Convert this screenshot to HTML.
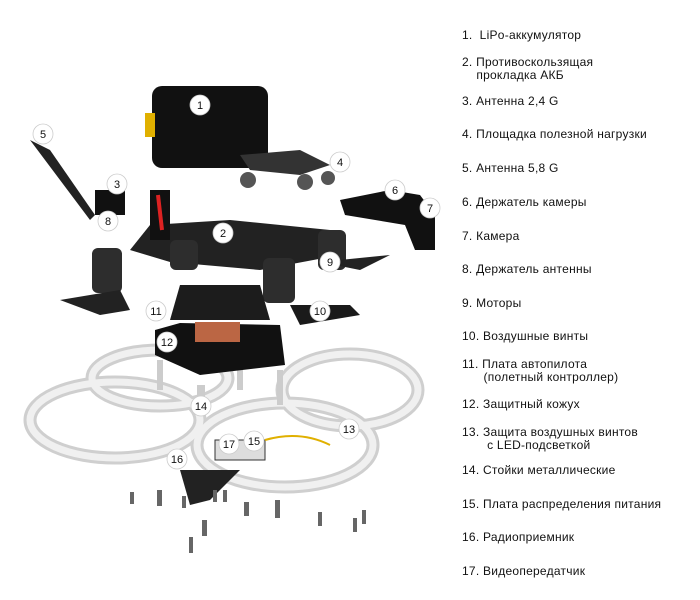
<!DOCTYPE html>
<html><head><meta charset="utf-8"><style>
body{margin:0;background:#fff;width:700px;height:600px;overflow:hidden;position:relative;font-family:"Liberation Sans",sans-serif}
.t{position:absolute;left:462px;font-size:12px;letter-spacing:0.25px;color:#111;line-height:13px;white-space:nowrap}
</style></head><body>
<svg width="700" height="600" style="position:absolute;left:0;top:0">
<g fill="none" stroke="#cfcfcf" stroke-width="13">
<ellipse cx="160" cy="378" rx="68" ry="28"/>
<ellipse cx="350" cy="390" rx="68" ry="36"/>
<ellipse cx="115" cy="420" rx="85" ry="38"/>
<ellipse cx="285" cy="445" rx="88" ry="42"/>
</g>
<g fill="none" stroke="#f0f0f0" stroke-width="7">
<ellipse cx="160" cy="378" rx="68" ry="28"/>
<ellipse cx="350" cy="390" rx="68" ry="36"/>
<ellipse cx="115" cy="420" rx="85" ry="38"/>
<ellipse cx="285" cy="445" rx="88" ry="42"/>
</g>
<g fill="#ccc"><rect x="157" y="360" width="6" height="30"/><rect x="237" y="360" width="6" height="30"/><rect x="277" y="370" width="6" height="35"/><rect x="197" y="385" width="8" height="30"/></g>
<path d="M180 470 L240 470 L210 500 L190 505 Z" fill="#222"/>
<rect x="152" y="86" width="116" height="82" rx="10" fill="#111"/>
<rect x="145" y="113" width="10" height="24" fill="#e0b000"/>
<path d="M240 155 L300 150 L330 165 L300 175 L250 170 Z" fill="#333"/>
<circle cx="248" cy="180" r="8" fill="#555"/><circle cx="305" cy="182" r="8" fill="#555"/><circle cx="328" cy="178" r="7" fill="#555"/>
<path d="M340 200 L390 190 L420 195 L435 215 L435 250 L415 250 L405 225 L345 215 Z" fill="#111"/>
<path d="M150 225 L230 220 L330 230 L340 255 L260 270 L170 262 L130 250 Z" fill="#222"/>
<path d="M30 140 L50 150 L95 215 L90 220 L45 160 Z" fill="#222"/>
<rect x="150" y="190" width="20" height="50" fill="#111"/><path d="M158 195 L162 230" stroke="#d22" stroke-width="4"/>
<rect x="95" y="190" width="30" height="25" fill="#111"/>
<g fill="#2d2d2d">
<rect x="92" y="248" width="30" height="45" rx="6"/><rect x="263" y="258" width="32" height="45" rx="6"/>
<rect x="318" y="230" width="28" height="40" rx="6"/><rect x="170" y="240" width="28" height="30" rx="6"/>
</g>
<path d="M60 300 L120 290 L130 310 L100 315 Z" fill="#222"/>
<path d="M290 305 L350 305 L360 315 L300 325 Z" fill="#1a1a1a"/>
<path d="M320 262 L390 255 L360 270 Z" fill="#222"/>
<path d="M180 285 L260 285 L270 320 L170 320 Z" fill="#1c1c1c"/>
<path d="M155 330 L180 323 L280 325 L285 365 L200 375 L155 355 Z" fill="#111"/>
<rect x="195" y="322" width="45" height="20" fill="#b64"/>
<rect x="215" y="440" width="50" height="20" fill="#ddd" stroke="#333"/>
<path d="M265 440 Q300 430 330 445" stroke="#e0b000" stroke-width="2" fill="none"/>
<g fill="#666">
<rect x="130" y="492" width="4" height="12"/><rect x="157" y="490" width="5" height="16"/><rect x="182" y="496" width="4" height="12"/><rect x="213" y="490" width="4" height="12"/><rect x="223" y="490" width="4" height="12"/><rect x="244" y="502" width="5" height="14"/><rect x="275" y="500" width="5" height="18"/><rect x="318" y="512" width="4" height="14"/><rect x="353" y="518" width="4" height="14"/><rect x="362" y="510" width="4" height="14"/><rect x="202" y="520" width="5" height="16"/><rect x="189" y="537" width="4" height="16"/>
</g>
<g font-family="Liberation Sans" font-size="11" text-anchor="middle">
<g fill="#fff" stroke="#ccc" stroke-width="0.8">
<circle cx="200" cy="105" r="10"/><circle cx="223" cy="233" r="10"/><circle cx="117" cy="184" r="10"/><circle cx="340" cy="162" r="10"/><circle cx="43" cy="134" r="10"/><circle cx="395" cy="190" r="10"/><circle cx="430" cy="208" r="10"/><circle cx="108" cy="221" r="10"/><circle cx="330" cy="262" r="10"/><circle cx="320" cy="311" r="10"/><circle cx="156" cy="311" r="10"/><circle cx="167" cy="342" r="10"/><circle cx="349" cy="429" r="10"/><circle cx="201" cy="406" r="10"/><circle cx="254" cy="441" r="10"/><circle cx="177" cy="459" r="10"/><circle cx="229" cy="444" r="10"/>
</g>
<g fill="#111">
<text x="200" y="109">1</text><text x="223" y="237">2</text><text x="117" y="188">3</text><text x="340" y="166">4</text><text x="43" y="138">5</text><text x="395" y="194">6</text><text x="430" y="212">7</text><text x="108" y="225">8</text><text x="330" y="266">9</text><text x="320" y="315">10</text><text x="156" y="315">11</text><text x="167" y="346">12</text><text x="349" y="433">13</text><text x="201" y="410">14</text><text x="254" y="445">15</text><text x="177" y="463">16</text><text x="229" y="448">17</text>
</g></g>
</svg>
<div class="t" style="top:29px">1.&nbsp; LiPo-аккумулятор</div>
<div class="t" style="top:56px">2. Противоскользящая<br>&nbsp;&nbsp;&nbsp; прокладка АКБ</div>
<div class="t" style="top:95px">3. Антенна 2,4 G</div>
<div class="t" style="top:128px">4. Площадка полезной нагрузки</div>
<div class="t" style="top:162px">5. Антенна 5,8 G</div>
<div class="t" style="top:196px">6. Держатель камеры</div>
<div class="t" style="top:230px">7. Камера</div>
<div class="t" style="top:263px">8. Держатель антенны</div>
<div class="t" style="top:297px">9. Моторы</div>
<div class="t" style="top:330px">10. Воздушные винты</div>
<div class="t" style="top:358px">11. Плата автопилота<br>&nbsp;&nbsp;&nbsp;&nbsp;&nbsp; (полетный контроллер)</div>
<div class="t" style="top:398px">12. Защитный кожух</div>
<div class="t" style="top:426px">13. Защита воздушных винтов<br>&nbsp;&nbsp;&nbsp;&nbsp;&nbsp;&nbsp; с LED-подсветкой</div>
<div class="t" style="top:464px">14. Стойки металлические</div>
<div class="t" style="top:498px">15. Плата распределения питания</div>
<div class="t" style="top:531px">16. Радиоприемник</div>
<div class="t" style="top:565px">17. Видеопередатчик</div>
</body></html>
